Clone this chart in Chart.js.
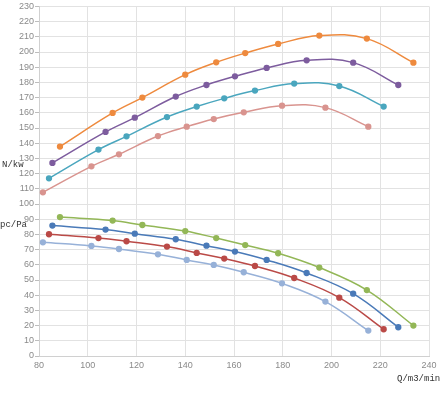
<!DOCTYPE html>
<html>
<head>
<meta charset="utf-8">
<script src="https://cdn.jsdelivr.net/npm/chart.js@4/dist/chart.umd.min.js"></script>
<style>
  html, body { margin:0; padding:0; background:#fff; }
  #wrap { position:relative; width:443px; height:398px; }
  .axis-title { position:absolute; font-family:"Liberation Mono", "DejaVu Sans Mono", monospace; font-size:9px; color:#333; white-space:nowrap; }
</style>
</head>
<body>
<div id="wrap">
  <canvas id="chart" width="443" height="398"></canvas>
  <div class="axis-title" style="left:2px;top:160px">N/kw</div>
  <div class="axis-title" style="left:0px;top:220px">pc/Pa</div>
  <div class="axis-title" style="left:397px;top:374px">Q/m3/min</div>
</div>
<script>
// flow points (Q), shared by power curve and pressure curve of the same fan
const q1 = [88.6, 110.2, 122.4, 140.0, 152.7, 164.6, 178.1, 195.0, 214.5, 233.6];
const q2 = [85.5, 107.3, 119.3, 136.1, 148.7, 160.4, 173.4, 189.8, 208.9, 227.4];
const q3 = [84.1, 104.4, 115.9, 132.5, 144.7, 156.0, 168.6, 184.7, 203.2, 221.4];
const q4 = [81.6, 101.5, 112.8, 128.8, 140.6, 151.7, 164.0, 179.7, 197.5, 215.1];

// shaft power N/kw
const powerA = [137.8, 159.9, 170.0, 185.1, 193.2, 199.3, 205.3, 210.8, 208.8, 193.0];
const powerB = [127.0, 147.4, 156.8, 170.7, 178.3, 184.0, 189.5, 194.5, 193.0, 178.3];
const powerC = [116.9, 135.8, 144.5, 157.2, 164.1, 169.5, 174.6, 179.2, 177.6, 164.1];
const powerD = [107.7, 124.8, 132.7, 144.7, 150.9, 155.9, 160.3, 164.7, 163.4, 150.9];

// pressure pc/Pa
const pressA = [91.4, 89.1, 86.2, 82.2, 77.6, 73.0, 67.6, 58.2, 43.4, 20.0];
const pressB = [85.8, 83.2, 80.5, 76.8, 72.6, 68.7, 63.2, 54.6, 41.0, 18.9];
const pressC = [80.1, 77.6, 75.5, 72.0, 67.8, 64.1, 59.2, 51.3, 38.4, 17.6];
const pressD = [74.8, 72.4, 70.4, 66.9, 63.2, 59.9, 55.1, 47.8, 35.8, 16.7];

const pts = (xs, ys) => xs.map((x, i) => ({ x, y: ys[i] }));

const series = [
  { q: q1, v: powerA, color: '#EE8A3E' },
  { q: q2, v: powerB, color: '#7D5C9E' },
  { q: q3, v: powerC, color: '#4AA6BE' },
  { q: q4, v: powerD, color: '#D9948F' },
  { q: q1, v: pressA, color: '#93B757' },
  { q: q2, v: pressB, color: '#4A7AB8' },
  { q: q3, v: pressC, color: '#BA4A47' },
  { q: q4, v: pressD, color: '#97B1D8' },
];

const tickFont = { family: '"Liberation Sans Narrow", "Liberation Sans", Arial, sans-serif', size: 9 };

new Chart(document.getElementById('chart'), {
  type: 'scatter',
  data: {
    datasets: series.map(s => ({
      data: pts(s.q, s.v),
      showLine: true,
      tension: 0.4,
      borderColor: s.color,
      backgroundColor: s.color,
      borderWidth: 1.5,
      pointRadius: 2.4,
      pointHoverRadius: 2.4
    }))
  },
  options: {
    responsive: false,
    animation: false,
    layout: { padding: { top: 6, right: 14, left: 0, bottom: 0 } },
    plugins: { legend: { display: false }, tooltip: { enabled: false } },
    scales: {
      x: {
        type: 'linear', min: 80, max: 240,
        ticks: { stepSize: 20, color: '#8a8a8a', font: tickFont, padding: 4 },
        grid: { color: '#e2e2e2', drawTicks: false },
        border: { color: '#d0d0d0' },
        afterFit: s => { s.height = 42; }
      },
      y: {
        min: 0, max: 230,
        ticks: { stepSize: 10, color: '#8a8a8a', font: tickFont, padding: 1 },
        grid: { color: '#e2e2e2', tickLength: 4, tickColor: '#bdbdbd' },
        border: { color: '#d0d0d0' },
        afterFit: s => { s.width = 39; }
      }
    }
  }
});
</script>
</body>
</html>
